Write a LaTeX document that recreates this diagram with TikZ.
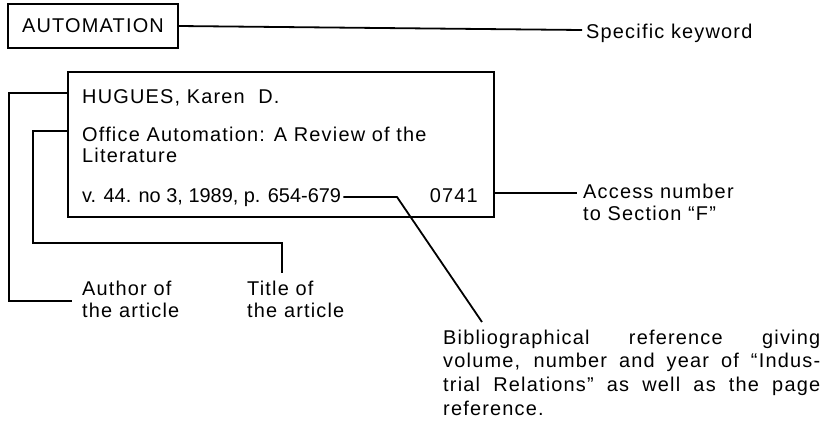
\documentclass[tikz,border=0pt]{standalone}
\usepackage{fontspec}
\setmainfont{Liberation Sans}[LetterSpace=6]
\newfontfamily\tightfont{Liberation Sans}
\newcommand{\tlines}[1]{\begin{tabular}[t]{@{}l@{}}#1\end{tabular}}
\tikzset{
  lbl/.style={inner sep=0pt, anchor=base west, font=\fontsize{20}{23}\selectfont},
  boxtxt/.style={inner sep=0pt, anchor=base west, font=\fontsize{20}{22}\selectfont},
  frame/.style={draw, line width=1.5bp, inner sep=0pt},
  conn/.style={line width=1.8bp, line join=miter}
}
\begin{document}
\begin{tikzpicture}[x=1bp, y=-1bp]
\useasboundingbox (0,0) rectangle (825,430);
% keyword box
\node[frame, minimum width=170bp, minimum height=44bp, font=\fontsize{20}{21}\selectfont] (kw) at (93,26) {AUTOMATION};
\node[lbl] (spec) at (586,38) {Specific keyword};
\coordinate (k2) at (582,30);
\draw[conn] (kw.east) -- (k2);
% card
\node[frame, anchor=north west, minimum width=426bp, minimum height=145bp] (card) at (67,71) {};
\node[boxtxt] (hug) at (82,103) {HUGUES, Karen\ \ D.};
\node[boxtxt] (off) at (82,141) {\tlines{Office Automation: A Review of the\\Literature}};
\node[boxtxt, font=\fontsize{20}{22}\tightfont] (vol) at (82,202) {v. 44. no 3, 1989, p. 654-679};
\node[boxtxt, anchor=base east] (num) at (478,202) {0741};
% labels
\node[lbl] (acc) at (583,198) {\tlines{Access number\\to Section ``F''}};
\node[lbl] (auth) at (82,295) {\tlines{Author of\\the article}};
\node[lbl] (titl) at (247,295) {\tlines{Title of\\the article}};
\node[lbl] (bib) at (443,344) {\parbox[t]{377bp}{\fontsize{20}{24}\selectfont
  \makebox[\linewidth][s]{Bibliographical reference giving}\\
  \makebox[\linewidth][s]{volume, number and year of ``Indus-}\\
  \makebox[\linewidth][s]{trial Relations'' as well as the page}\\
  reference.}};
% connector coordinates
\coordinate (a1) at (9,93);
\coordinate (a2) at (9,301);
\coordinate (a3) at (72,301);
\coordinate (t1) at (33,131);
\coordinate (t2) at (33,243);
\coordinate (t3) at (282,243);
\coordinate (t4) at (282,273);
\coordinate (b1) at (397,197);
\coordinate (b2) at (482,322);
\coordinate (c1) at (577,193);
% connectors
\draw[conn] (card.west |- a1) -- (a1) -- (a2) -- (a3);
\draw[conn] (card.west |- t1) -- (t1) -- (t2) -- (t3) -- (t4);
\draw[conn] ([xshift=2bp]vol.east |- b1) -- (b1) -- (b2);
\draw[conn] (card.east |- c1) -- (c1);
\end{tikzpicture}
\end{document}
